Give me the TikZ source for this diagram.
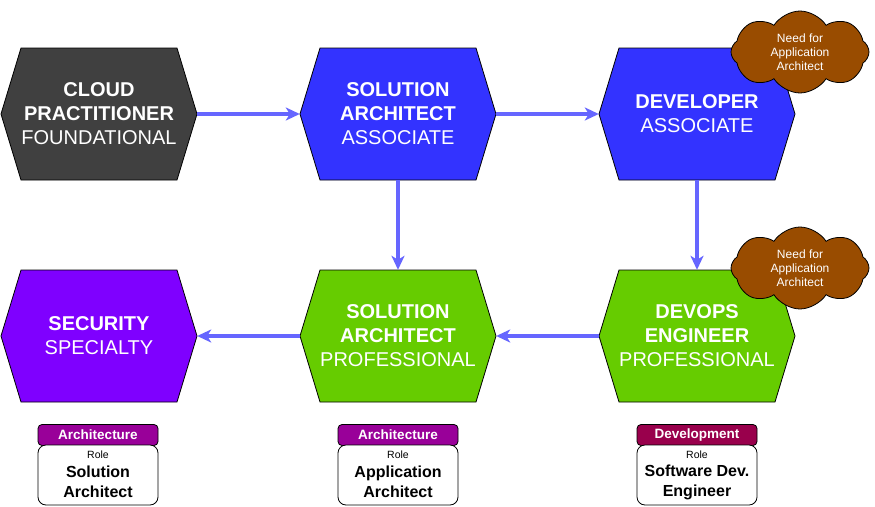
\documentclass[tikz,border=0pt]{standalone}
\usepackage{fontspec}
\setmainfont{Liberation Sans}
\usetikzlibrary{shapes.symbols,arrows.meta,calc}
\definecolor{hexdark}{HTML}{404040}
\definecolor{hexblue}{HTML}{3333FF}
\definecolor{hexgreen}{HTML}{66CC00}
\definecolor{hexpurple}{HTML}{7F00FF}
\definecolor{arrowblue}{HTML}{6666FF}
\definecolor{cloudbrown}{HTML}{994C00}
\definecolor{archhead}{HTML}{990099}
\definecolor{devhead}{HTML}{99004C}
\newcommand\hexfill[4]{% name x y colour
  \filldraw[#4, draw=black, line width=0.8pt] (#2-98,#3) -- (#2-78,#3-66) -- (#2+78,#3-66) -- (#2+98,#3) -- (#2+78,#3+66) -- (#2-78,#3+66) -- cycle;
}
\tikzset{
  hexnode/.style={minimum width=196pt, minimum height=132pt, inner sep=0pt, text=white, align=center, font=\fontsize{20}{24}\selectfont},
  conn/.style={arrowblue, line width=3.5pt, -{Stealth[length=14pt,width=13pt,inset=4pt]}},
  cloudnode/.style={cloud, cloud puffs=8, cloud puff arc=115, cloud ignores aspect, fill=cloudbrown, draw=black, line width=0.8pt, text=white, minimum width=138pt, minimum height=82pt, inner sep=0pt, align=center, font=\fontsize{12}{14}\selectfont},
  rolehead/.style={rounded corners=4pt, draw=black, line width=0.8pt, minimum width=120pt, minimum height=21pt, inner sep=0pt, text=white, font=\bfseries\fontsize{13.5}{16}\selectfont},
  rolebody/.style={rounded corners=8pt, draw=black, line width=0.8pt, fill=white, minimum width=120pt, minimum height=60pt, inner sep=0pt},
  roletag/.style={inner sep=0pt, font=\fontsize{10.5}{12}\selectfont},
  rolename/.style={inner sep=0pt, align=center, font=\bfseries\fontsize{16}{20}\selectfont}
}
\begin{document}
\begin{tikzpicture}[x=1pt,y=-1pt]
\useasboundingbox[fill=white] (0,0) rectangle (875,506);
% hexagons
\hexfill{cp}{99}{114}{hexdark}
\node[hexnode] (cp) at (99,114) {\textbf{CLOUD}\\\textbf{PRACTITIONER}\\FOUNDATIONAL};
\hexfill{saa}{398}{114}{hexblue}
\node[hexnode] (saa) at (398,114) {\textbf{SOLUTION}\\\textbf{ARCHITECT}\\ASSOCIATE};
\hexfill{dev}{697}{114}{hexblue}
\node[hexnode] (dev) at (697,114) {\textbf{DEVELOPER}\\ASSOCIATE};
\hexfill{sec}{99}{336}{hexpurple}
\node[hexnode] (sec) at (99,336) {\textbf{SECURITY}\\SPECIALTY};
\hexfill{sap}{398}{336}{hexgreen}
\node[hexnode] (sap) at (398,336) {\textbf{SOLUTION}\\\textbf{ARCHITECT}\\PROFESSIONAL};
\hexfill{dop}{697}{336}{hexgreen}
\node[hexnode] (dop) at (697,336) {\textbf{DEVOPS}\\\textbf{ENGINEER}\\PROFESSIONAL};
% connectors
\draw[conn] (cp.east) -- (saa.west);
\draw[conn] (saa.east) -- (dev.west);
\draw[conn] (saa.south) -- (sap.north);
\draw[conn] (dev.south) -- (dop.north);
\draw[conn] (dop.west) -- (sap.east);
\draw[conn] (sap.west) -- (sec.east);
% clouds
\node[cloudnode] (c1) at (800,52) {Need for\\Application\\Architect};
\node[cloudnode] (c2) at (800,268) {Need for\\Application\\Architect};
% role boxes
\node[rolehead, fill=archhead] (h1) at (98,435) {Architecture};
\node[rolebody] (b1) at (98,475) {};
\node[roletag] (t1) at (98,455) {Role};
\node[rolename] (n1) at (98,482) {Solution\\Architect};
\node[rolehead, fill=archhead] (h2) at (398,435) {Architecture};
\node[rolebody] (b2) at (398,475) {};
\node[roletag] (t2) at (398,455) {Role};
\node[rolename] (n2) at (398,482) {Application\\Architect};
\node[rolehead, fill=devhead] (h3) at (697,435) {Development};
\node[rolebody] (b3) at (697,475) {};
\node[roletag] (t3) at (697,455) {Role};
\node[rolename] (n3) at (697,482) {Software Dev.\\Engineer};
\end{tikzpicture}
\end{document}
